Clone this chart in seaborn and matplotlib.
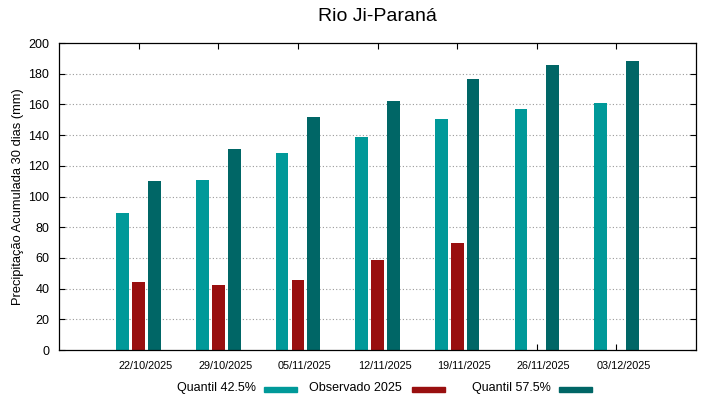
import numpy as np
import pandas as pd
import matplotlib
matplotlib.use("Agg")
import matplotlib.pyplot as plt
import matplotlib.transforms as mtransforms
from matplotlib.patches import Rectangle
import seaborn as sns

# values
datas = ['22/10/2025', '29/10/2025', '05/11/2025', '12/11/2025',
         '19/11/2025', '26/11/2025', '03/12/2025']
quantil_425 = [89, 111, 128.5, 138.5, 150.5, 157, 161]
observado = [44.5, 42.5, 45.5, 58.5, 69.5, np.nan, np.nan]
quantil_575 = [110, 131, 152, 162, 176.5, 186, 188]
series = ['Quantil 42.5%', 'Observado 2025', 'Quantil 57.5%']
cores = ['#009999', '#990f0f', '#006666']

df = pd.DataFrame({'data': datas * 3,
                   'valor': quantil_425 + observado + quantil_575,
                   'serie': [s for s in series for _ in datas]})

sns.set_style('white')
plt.rcParams['font.family'] = ['Liberation Sans', 'DejaVu Sans']
plt.rcParams.update({'text.color': 'black', 'axes.labelcolor': 'black',
                     'xtick.color': 'black', 'ytick.color': 'black'})

fig = plt.figure(figsize=(7.19, 3.99), dpi=100)
ax = fig.add_axes([0.0821, 0.1228, 0.886, 0.7694])

sns.barplot(data=df, x='data', y='valor', hue='serie', hue_order=series,
            palette=cores, width=0.6, gap=0.2, ax=ax, legend=False,
            saturation=1, linewidth=0)

ax.set_xlim(-1, 7)
ax.set_ylim(0, 200)
ax.set_yticks(range(0, 201, 20))
ax.set_xlabel('')
ax.set_ylabel('Precipitação Acumulada 30 dias (mm)', fontsize=9.3, labelpad=3)
ax.set_title('Rio Ji-Paraná', fontsize=14, pad=16)
ax.tick_params(axis='y', labelsize=9, direction='in', length=4,
               right=True, left=True, width=0.8, pad=7)
ax.tick_params(axis='x', labelsize=7.8, direction='in', length=4,
               top=True, bottom=True, width=0.8, pad=8)
# gnuplot-style labels sit a little right of the tick
off = mtransforms.ScaledTranslation(7 / 100, 0, fig.dpi_scale_trans)
for lab in ax.get_xticklabels():
    lab.set_transform(lab.get_transform() + off)
for sp in ax.spines.values():
    sp.set_color('black')
    sp.set_linewidth(0.9)

for y in range(20, 200, 20):
    ax.axhline(y, color='#999999', linestyle=(0, (1, 2)), linewidth=0.8, zorder=0)

# legend below the plot: text first, swatch to its right
W, H = 719, 399
legenda = [(177, 264), (309, 412), (472, 559)]
for (tx, sx), nome, cor in zip(legenda, series, cores):
    fig.text(tx / W, 1 - 388 / H, nome, fontsize=9, va='center', ha='left')
    fig.patches.append(Rectangle((sx / W, 1 - 391.5 / H), 33 / W, 5 / H,
                                 color=cor, transform=fig.transFigure,
                                 figure=fig))

fig.savefig('out.png', dpi=100)
